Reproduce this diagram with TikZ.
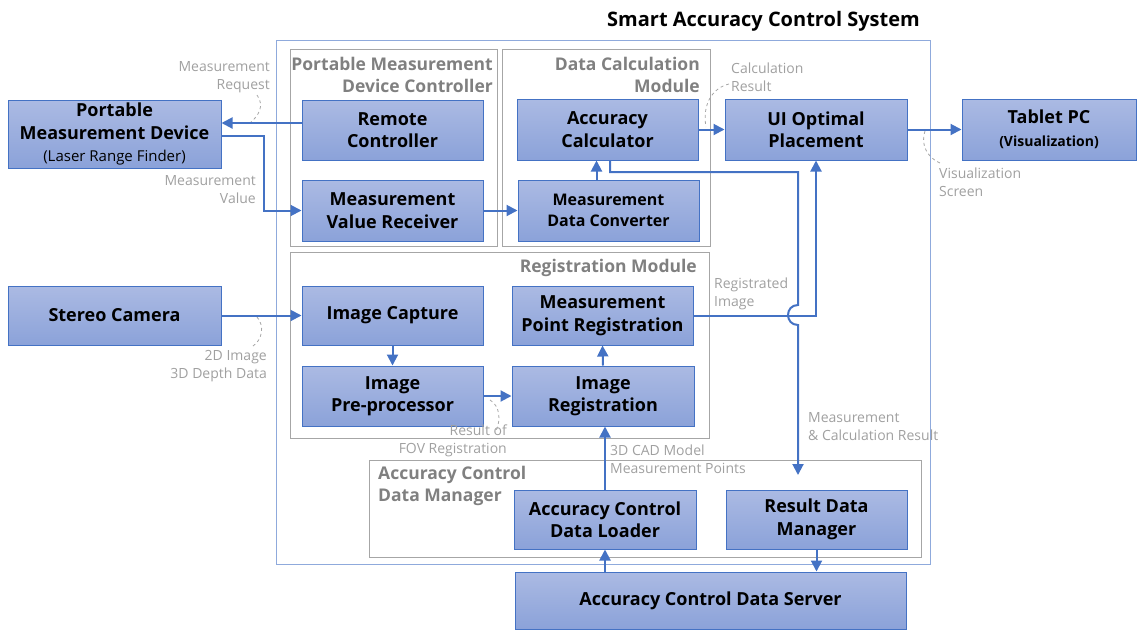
\documentclass[tikz,border=0pt]{standalone}
\usepackage{fontspec}
\setmainfont{Open Sans}
\usetikzlibrary{arrows.meta,decorations.markings}
\definecolor{lineblue}{HTML}{4472C4}
\definecolor{filltop}{HTML}{ABBAE3}
\definecolor{fillbot}{HTML}{8BA2D9}
\definecolor{sysblue}{HTML}{8FAADC}
\definecolor{grpgray}{HTML}{A6A6A6}
\definecolor{grptext}{HTML}{808080}
\definecolor{notegray}{HTML}{A0A0A0}
\newcommand\blkfont{\bfseries\fontsize{18}{22.5}\selectfont}
\newcommand\grpfont{\bfseries\fontsize{17.5}{22}\selectfont}
\newcommand\notefont{\fontsize{14}{18}\selectfont}
\tikzset{flow/.style = {draw=lineblue, line width=2pt, shorten >=4pt, decoration={markings, mark=at position 1 with {\arrow[scale=1]{Triangle[length=11pt,width=11pt]}}}, postaction={decorate}}}
\tikzset{blk/.style = {draw=lineblue, line width=1pt, top color=filltop, bottom color=fillbot, align=center, font=\blkfont, inner sep=0, minimum width=181, minimum height=60}}
\tikzset{grp/.style = {draw=grpgray, line width=1pt}}
\tikzset{grplabel/.style = {text=grptext, font=\grpfont, inner sep=0}}
\tikzset{note/.style = {text=notegray, font=\notefont, inner sep=0}}
\tikzset{callout/.style = {draw=grpgray, dashed, line width=0.8pt}}

\begin{document}
\begin{tikzpicture}[x=1pt, y=-1pt]
      \useasboundingbox (0,0) rectangle (1137,630);
      % frames
      \draw [draw=sysblue, line width=1pt] (276,40) rectangle (930,564);
      \node [inner sep=0, anchor=east, font=\bfseries\fontsize{20}{24}\selectfont] (title) at (920,21) {Smart Accuracy Control System};
      \draw [grp] (290,49) rectangle (497,246);
      \draw [grp] (502,49) rectangle (710,246);
      \draw [grp] (290,252) rectangle (709,438);
      \draw [grp] (369,460) rectangle (921,557);
      \node [grplabel, anchor=east, align=right] (pmdc) at (493,75) {Portable Measurement\\Device Controller};
      \node [grplabel, anchor=east, align=right] (dcm) at (700,75) {Data Calculation\\Module};
      \node [grplabel, anchor=east] (regm) at (697,268) {Registration Module};
      \node [grplabel, anchor=west, align=left] (acdm) at (378,486) {Accuracy Control\\Data Manager};
      % blocks
      \node [blk, minimum width=213, minimum height=68] (pmd) at (114.5,134) {Portable\\Measurement Device\\{\mdseries\fontsize{15}{20}\selectfont (Laser Range Finder)}};
      \node [blk] (rc) at (392.5,130) {Remote\\Controller};
      \node [blk, minimum height=61] (mvr) at (392.5,210.5) {Measurement\\Value Receiver};
      \node [blk, minimum height=61] (ac) at (607.5,129.5) {Accuracy\\Calculator};
      \node [blk, minimum height=61, font=\bfseries\fontsize{16}{21}\selectfont] (mdc) at (608.5,210.5) {Measurement\\Data Converter};
      \node [blk, minimum width=182, minimum height=61] (ui) at (816,129.5) {UI Optimal\\Placement};
      \node [blk, minimum width=174, minimum height=61] (tab) at (1049,129.5) {Tablet PC\\{\fontsize{14}{19}\selectfont (Visualization)}};
      \node [blk, minimum width=213, minimum height=59] (sc) at (114.5,315.5) {Stereo Camera};
      \node [blk, minimum height=59] (ic) at (392.5,315.5) {Image Capture};
      \node [blk, minimum height=59] (mpr) at (602.5,315.5) {Measurement\\Point Registration};
      \node [blk] (ipp) at (392.5,396) {Image\\Pre-processor};
      \node [blk, minimum width=182] (ir) at (603,396) {Image\\Registration};
      \node [blk, minimum width=182, minimum height=59] (acdl) at (605,519.5) {Accuracy Control\\Data Loader};
      \node [blk, minimum height=59] (rdm) at (816.5,519.5) {Result Data\\Manager};
      \node [blk, minimum width=391, minimum height=57] (acds) at (710.5,600.5) {Accuracy Control Data Server};
      % notes
      \node [note, anchor=east, align=right] (nreq) at (270,77) {Measurement\\Request};
      \node [note, anchor=east, align=right] (nval) at (256,190) {Measurement\\Value};
      \node [note, anchor=west, align=left] (ncalc) at (731,77) {Calculation\\Result};
      \node [note, anchor=west, align=left] (nvis) at (939,182) {Visualization\\Screen};
      \node [note, anchor=east, align=right] (nimg) at (267,366) {2D Image\\3D Depth Data};
      \node [note, anchor=west, align=left] (nreg) at (714,294) {Registrated\\Image};
      \node [note, anchor=east, align=right] (nfov) at (507,441) {Result of\\FOV Registration};
      \node [note, anchor=west, align=left] (ncad) at (610,459) {3D CAD Model\\Measurement Points};
      \node [note, anchor=west, align=left] (nres) at (808,427) {Measurement\\\& Calculation Result};
      \draw [callout] (257,95) .. controls (265,106) and (258,116) .. (251,122);
      \draw [callout] (729,84) .. controls (712,88) and (702,105) .. (706,127);
      \draw [callout] (925,131) .. controls (920,145) and (928,158) .. (940,163);
      \draw [callout] (257,317) .. controls (265,326) and (262,340) .. (253,346);
      \draw [callout] (490,400) .. controls (500,406) and (501,420) .. (496,431);
      % connectors
      \coordinate (rdmin) at (798,475);
      \draw [flow] ([yshift=7]rc.west) -- ([yshift=11]pmd.east);
      \draw [flow] ([yshift=-2]pmd.east) -- ++(42,0) |- (mvr.west);
      \draw [flow] (mvr.east) -- (mdc.west);
      \draw [flow] ([xshift=-12]mdc.north) -- ([xshift=-11]ac.south);
      \draw [flow] (ac.east) -- (ui.west);
      \draw [flow] ([xshift=2.5]ac.south) |- (798,172) -- (798,305) .. controls (784.7,305) and (784.7,325) .. (798,325) -- (rdmin);
      \draw [flow] (mpr.east) -| (ui.south);
      \draw [flow] (ui.east) -- (tab.west);
      \draw [flow] (sc.east) -- (ic.west);
      \draw [flow] (ic.south) -- (ipp.north);
      \draw [flow] (ipp.east) -- (ir.west);
      \draw [flow] (ir.north) -- (mpr.south);
      \draw [flow] (acdl.north) -- (acdl.north |- ir.south);
      \draw [flow] (acds.north -| acdl.south) -- (acdl.south);
      \draw [flow] (rdm.south) -- (rdm.south |- acds.north);
    \end{tikzpicture}
\end{document}
